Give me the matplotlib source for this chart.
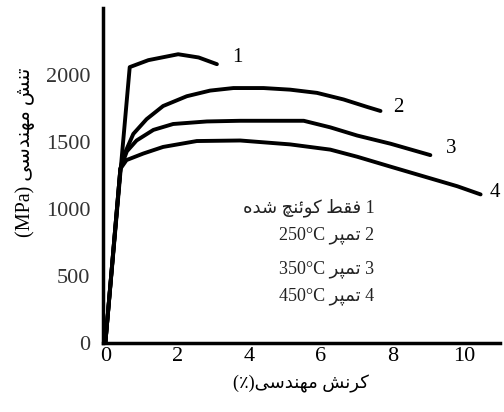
import matplotlib
matplotlib.use("Agg")
import matplotlib.pyplot as plt

# Arabic/Persian letters -> presentation forms (isolated, final, initial, medial)
FORMS = {
    "ت": ("\uFE95", "\uFE96", "\uFE97", "\uFE98"),
    "ن": ("\uFEE5", "\uFEE6", "\uFEE7", "\uFEE8"),
    "ش": ("\uFEB5", "\uFEB6", "\uFEB7", "\uFEB8"),
    "م": ("\uFEE1", "\uFEE2", "\uFEE3", "\uFEE4"),
    "ه": ("\uFEE9", "\uFEEA", "\uFEEB", "\uFEEC"),
    "د": ("\uFEA9", "\uFEAA"),
    "س": ("\uFEB1", "\uFEB2", "\uFEB3", "\uFEB4"),
    "ی": ("\uFBFC", "\uFBFD", "\uFBFE", "\uFBFF"),
    "ک": ("\uFB8E", "\uFB8F", "\uFB90", "\uFB91"),
    "ر": ("\uFEAD", "\uFEAE"),
    "پ": ("\uFB56", "\uFB57", "\uFB58", "\uFB59"),
    "ف": ("\uFED1", "\uFED2", "\uFED3", "\uFED4"),
    "ق": ("\uFED5", "\uFED6", "\uFED7", "\uFED8"),
    "ط": ("\uFEC1", "\uFEC2", "\uFEC3", "\uFEC4"),
    "و": ("\uFEED", "\uFEEE"),
    "ئ": ("\uFE89", "\uFE8A", "\uFE8B", "\uFE8C"),
    "چ": ("\uFB7A", "\uFB7B", "\uFB7C", "\uFB7D"),
}


def fa(text):
    # join letters and put them in visual (right-to-left) order
    out = []
    for i, c in enumerate(text):
        if c not in FORMS:
            out.append(c)
            continue
        forms = FORMS[c]
        prev = text[i - 1] if i > 0 else ""
        nxt = text[i + 1] if i + 1 < len(text) else ""
        jp = prev in FORMS and len(FORMS[prev]) == 4
        jn = nxt in FORMS and len(forms) == 4
        if jp and jn:
            out.append(forms[3])
        elif jp:
            out.append(forms[1])
        elif jn:
            out.append(forms[2])
        else:
            out.append(forms[0])
    return "".join(reversed(out))


# data (strain %, stress MPa)
x1 = [0.0, 0.68, 1.2, 2.03, 2.6, 3.11]
y1 = [0, 2058, 2110, 2154, 2130, 2080]

x2 = [0.0, 0.42, 0.5, 0.78, 1.15, 1.61, 2.27, 2.92, 3.57, 4.41, 5.15, 5.90, 6.64, 7.30, 7.67]
y2 = [0, 1300, 1390, 1560, 1670, 1768, 1841, 1883, 1902, 1902, 1890, 1866, 1817, 1761, 1731]

x3 = [0.0, 0.42, 0.6, 0.87, 1.34, 1.89, 2.83, 3.76, 5.53, 6.27, 7.02, 7.95, 9.06]
y3 = [0, 1300, 1430, 1511, 1590, 1634, 1653, 1658, 1658, 1609, 1548, 1487, 1402]

x4 = [0.0, 0.42, 0.59, 1.06, 1.61, 2.55, 3.76, 5.15, 6.27, 7.02, 7.95, 8.88, 9.81, 10.46]
y4 = [0, 1300, 1365, 1414, 1463, 1507, 1511, 1482, 1443, 1390, 1316, 1243, 1170, 1109]

curve_labels = ["1", "2", "3", "4"]
label_pos = [(3.67, 2131), (8.17, 1758), (9.65, 1450), (10.85, 1120)]

legend_lines = [
    fa("فقط کوئنچ شده") + " 1",
    "250°C " + fa("تمپر") + " 2",
    "350°C " + fa("تمپر") + " 3",
    "450°C " + fa("تمپر") + " 4",
]
legend_y = [1010, 805, 555, 350]

xticks = [0, 2, 4, 6, 8, 10]
yticks = [0, 500, 1000, 1500, 2000]

SERIF = ["Liberation Serif", "DejaVu Sans"]

fig = plt.figure(figsize=(5.04, 4.12), dpi=100)
ax = fig.add_axes([0.204, 0.167, 0.788, 0.814])

for xs, ys in [(x1, y1), (x2, y2), (x3, y3), (x4, y4)]:
    ax.plot(xs, ys, color="black", lw=2.8, solid_joinstyle="round", solid_capstyle="round")

for lab, (lx, ly) in zip(curve_labels, label_pos):
    ax.text(lx, ly, lab, fontsize=15, family=SERIF, ha="center", va="center", clip_on=False)

for line, ly in zip(legend_lines, legend_y):
    ax.text(7.5, ly, line, fontsize=13, family=SERIF, ha="right", va="center", color="#222222")

ax.set_xlim(-0.07, 11.0)
ax.set_ylim(0, 2500)
ax.set_xticks(xticks)
ax.set_yticks(yticks)
ax.set_xticklabels([str(t) for t in xticks], family=SERIF, fontsize=16)
ax.set_yticklabels([str(t) for t in yticks], family=SERIF, fontsize=16, color="#333333")
ax.tick_params(length=0, pad=3)
ax.tick_params(axis="y", pad=9)

for side in ["top", "right"]:
    ax.spines[side].set_visible(False)
for side in ["left", "bottom"]:
    ax.spines[side].set_linewidth(2.5)

ax.set_xlabel("(٪)" + fa("کرنش مهندسی"), family=SERIF, fontsize=13, labelpad=6)
ax.set_ylabel("(MPa) " + fa("تنش مهندسی"), family=SERIF, fontsize=14.5)
ax.yaxis.set_label_coords(-0.17, 0.57)

fig.savefig("out.png", dpi=100)
